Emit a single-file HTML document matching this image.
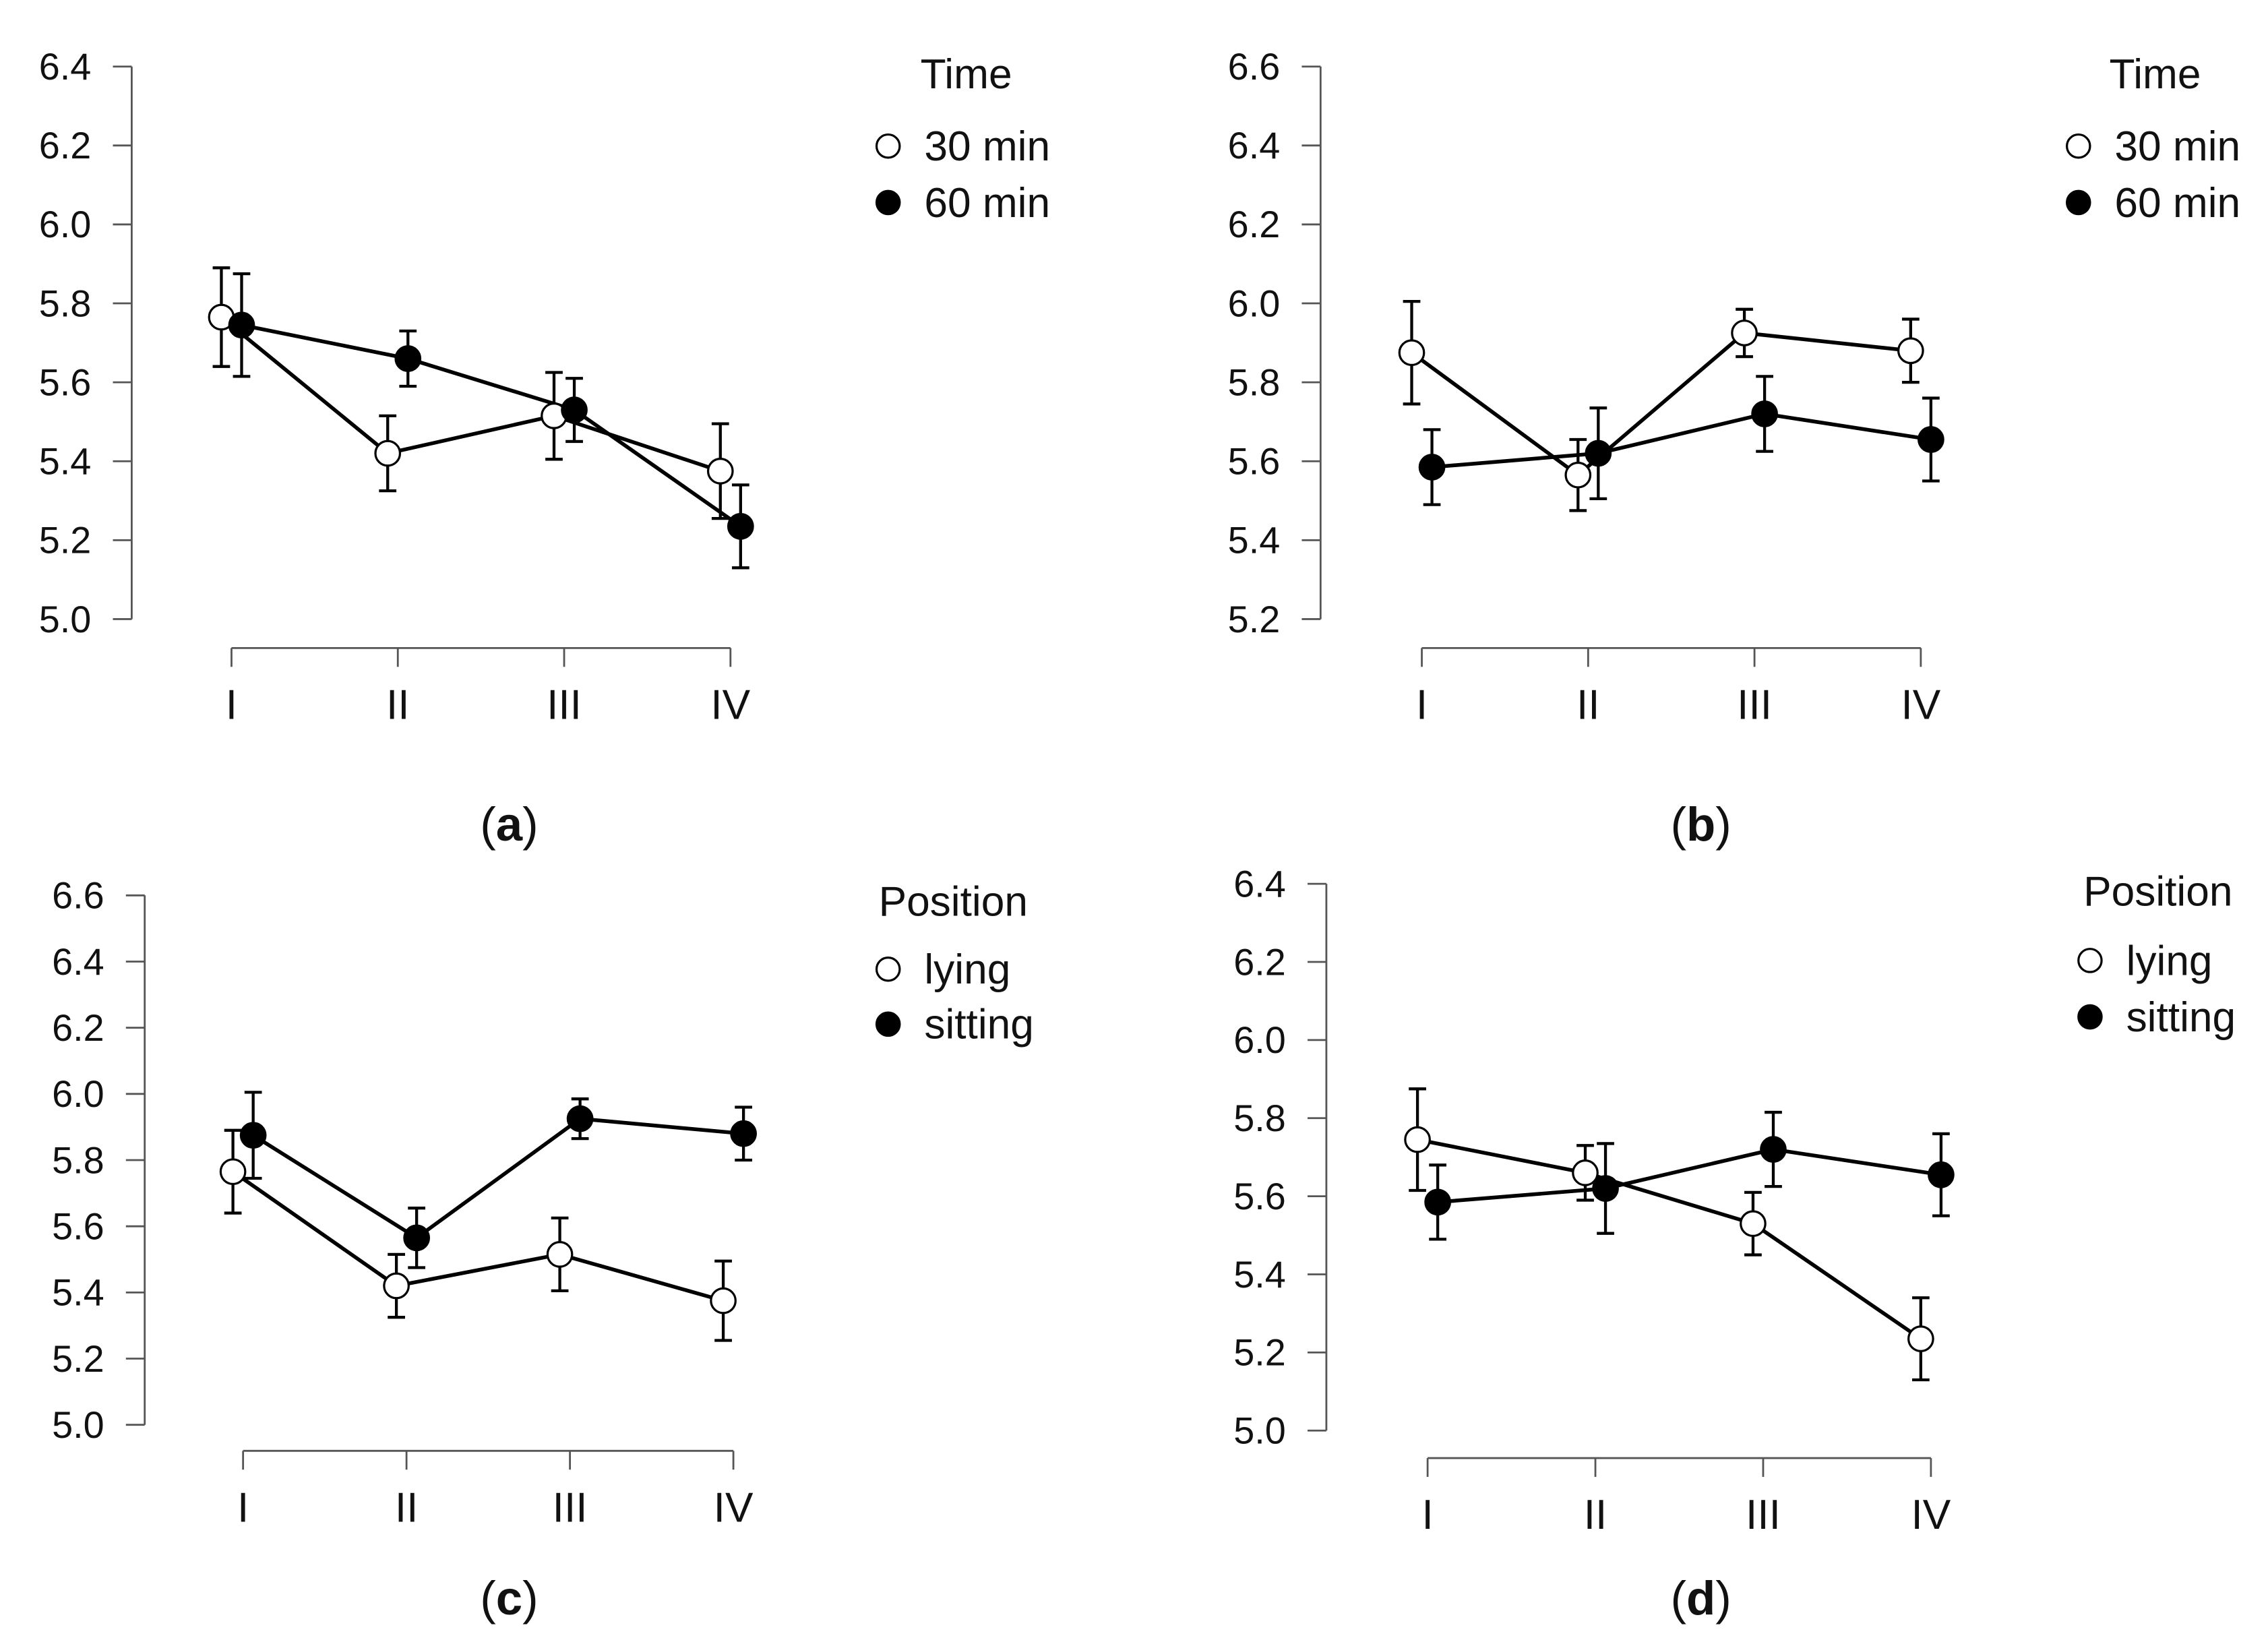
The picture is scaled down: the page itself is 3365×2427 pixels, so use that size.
<!DOCTYPE html>
<html><head><meta charset="utf-8"><style>
html,body{margin:0;padding:0;background:#fff;}
svg{display:block;}
text{font-family:"Liberation Sans",sans-serif;}
</style></head>
<body>
<svg id="chart" width="3365" height="2427" viewBox="0 0 1568 1131" xmlns="http://www.w3.org/2000/svg">
<rect width="1568" height="1131" fill="#fff"/>
</svg>
<script>
const categories = ["I","II","III","IV"];
// panel a
const aOpen = [5.765,5.42,5.515,5.375];
const aOpenErr = [0.125,0.095,0.11,0.12];
const aFilled = [5.745,5.66,5.53,5.235];
const aFilledErr = [0.13,0.07,0.08,0.105];
const aTicks = [5.0,5.2,5.4,5.6,5.8,6.0,6.2,6.4];
// panel b
const bOpen = [5.875,5.565,5.925,5.88];
const bOpenErr = [0.13,0.09,0.06,0.08];
const bFilled = [5.585,5.62,5.72,5.655];
const bFilledErr = [0.095,0.115,0.095,0.105];
const bTicks = [5.2,5.4,5.6,5.8,6.0,6.2,6.4,6.6];
// panel c
const cOpen = [5.765,5.42,5.515,5.375];
const cOpenErr = [0.125,0.095,0.11,0.12];
const cFilled = [5.875,5.565,5.925,5.88];
const cFilledErr = [0.13,0.09,0.06,0.08];
const cTicks = [5.0,5.2,5.4,5.6,5.8,6.0,6.2,6.4,6.6];
// panel d
const dOpen = [5.745,5.66,5.53,5.235];
const dOpenErr = [0.13,0.07,0.08,0.105];
const dFilled = [5.585,5.62,5.72,5.655];
const dFilledErr = [0.095,0.115,0.095,0.105];
const dTicks = [5.0,5.2,5.4,5.6,5.8,6.0,6.2,6.4];

const NS="http://www.w3.org/2000/svg";
const svg=document.getElementById('chart');
function mk(tag,attrs,parent){const e=document.createElementNS(NS,tag);for(const k in attrs)e.setAttribute(k,attrs[k]);(parent||svg).appendChild(e);return e;}

function panel(p){
  const g=mk('g',{});
  
  
  const t0=p.ticks[0],t1=p.ticks[p.ticks.length-1];
  const y=v=>p.yBot+(v-t0)/(t1-t0)*(p.yTop-p.yBot);
  const x=i=>p.x0+i*p.dx;
  const ya=mk('line',{x1:p.ax,x2:p.ax,y1:y(t0),y2:y(t1),stroke:'#555','stroke-width':1.3},g);
  
  
  p.ticks.forEach(t=>{
    mk('line',{x1:p.ax-13,x2:p.ax,y1:y(t),y2:y(t),stroke:'#555','stroke-width':1.3},g);
    const tx=mk('text',{x:p.ax-28,y:y(t)+9,'text-anchor':'end','font-size':26,fill:'#111'},g);
    tx.textContent=t.toFixed(1);
    
    
  });
  const xa=mk('line',{x1:x(0),x2:x(3),y1:p.xAxY,y2:p.xAxY,stroke:'#555','stroke-width':1.3},g);
  
  
  categories.forEach((c,i)=>{
    mk('line',{x1:x(i),x2:x(i),y1:p.xAxY,y2:p.xAxY+13,stroke:'#555','stroke-width':1.3},g);
    const tx=mk('text',{x:x(i),y:p.xAxY+49,'text-anchor':'middle','font-size':29,fill:'#111'},g);
    tx.textContent=c;
    
    
  });
  const series=[{v:p.open,e:p.openErr,off:-7,fill:'#fff',name:'open'},{v:p.filled,e:p.filledErr,off:7,fill:'#000',name:'filled'}];
  series.forEach(s=>{
    const pts=s.v.map((v,i)=>(x(i)+s.off)+','+y(v)).join(' ');
    const pl=mk('polyline',{points:pts,fill:'none',stroke:'#000','stroke-width':2.6},g);
    
    
  });
  series.forEach(s=>{
    s.v.forEach((v,i)=>{
      const cx=x(i)+s.off;
      const eb=mk('path',{d:`M${cx},${y(v-s.e[i])}V${y(v+s.e[i])}M${cx-6},${y(v-s.e[i])}h12M${cx-6},${y(v+s.e[i])}h12`,stroke:'#000','stroke-width':2,fill:'none'},g);
      
      
    });
  });
  series.forEach(s=>{
    s.v.forEach((v,i)=>{
      const c=mk('circle',{cx:x(i)+s.off,cy:y(v),r:8.5,fill:s.fill,stroke:'#000','stroke-width':1.5},g);
      
      
    });
  });
  const lt=mk('text',{x:p.legX,y:p.legY,'text-anchor':'middle','font-size':29,fill:'#111'},g);
  lt.textContent=p.legTitle;
  
  
  p.legItems.forEach((it,k)=>{
    const yy=p.legY+p.legGap1+k*p.legGap2;
    const c=mk('circle',{cx:p.legCx,cy:yy,r:8,fill:k?'#000':'#fff',stroke:'#000','stroke-width':1.5},g);
    
    
    const t=mk('text',{x:p.legCx+25,y:yy+10,'font-size':29,fill:'#111'},g);
    t.textContent=it;
    
    
  });
  const cap=mk('text',{x:p.capX,y:p.capY,'text-anchor':'middle','font-size':33,fill:'#111','font-family':'Liberation Serif,serif'},g);
  cap.innerHTML='(<tspan font-weight="bold">'+p.id+'</tspan>)';
  
  
}

panel({id:'a',ticks:aTicks,open:aOpen,openErr:aOpenErr,filled:aFilled,filledErr:aFilledErr,ax:91,yBot:428,yTop:46,x0:160,dx:115,xAxY:448,legX:668,legY:61,legGap1:40,legGap2:39,legCx:614,legTitle:'Time',legItems:['30 min','60 min'],capX:352,capY:581});
panel({id:'b',ticks:bTicks,open:bOpen,openErr:bOpenErr,filled:bFilled,filledErr:bFilledErr,ax:913,yBot:428,yTop:46,x0:983,dx:115,xAxY:448,legX:1490,legY:61,legGap1:40,legGap2:39,legCx:1437,legTitle:'Time',legItems:['30 min','60 min'],capX:1176,capY:581});
panel({id:'c',ticks:cTicks,open:cOpen,openErr:cOpenErr,filled:cFilled,filledErr:cFilledErr,ax:100,yBot:985,yTop:619,x0:168,dx:113,xAxY:1003,legX:659,legY:633,legGap1:37,legGap2:38,legCx:614,legTitle:'Position',legItems:['lying','sitting'],capX:352,capY:1116});
panel({id:'d',ticks:dTicks,open:dOpen,openErr:dOpenErr,filled:dFilled,filledErr:dFilledErr,ax:917,yBot:989,yTop:611,x0:987,dx:116,xAxY:1008,legX:1492,legY:626,legGap1:38,legGap2:39,legCx:1445,legTitle:'Position',legItems:['lying','sitting'],capX:1176,capY:1116});
</script>
</body></html>
